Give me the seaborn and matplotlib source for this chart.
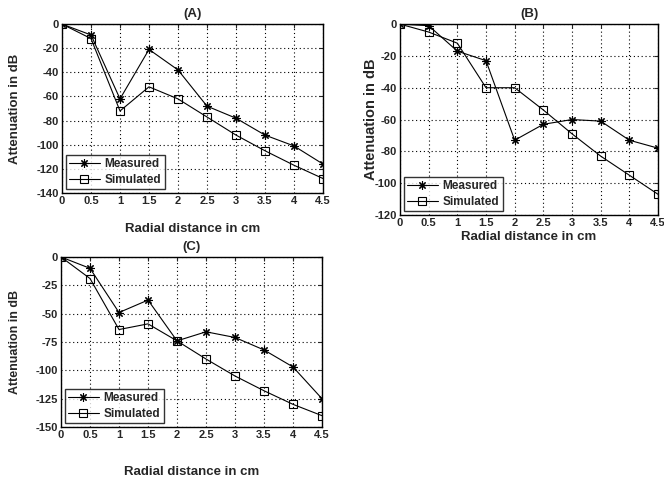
import matplotlib
matplotlib.use("Agg")
import matplotlib.pyplot as plt
import seaborn as sns
import pandas as pd

# radial distance (cm)
distancia = [0, 0.5, 1, 1.5, 2, 2.5, 3, 3.5, 4, 4.5]

# panel A
medido_a = [0, -9, -62, -21, -38, -68, -78, -92, -101, -116]
simulado_a = [0, -12, -72, -52, -62, -77, -92, -105, -117, -128]

# panel B
medido_b = [0, -1, -17, -23, -73, -63, -60, -61, -73, -78]
simulado_b = [0, -5, -12, -40, -40, -54, -69, -83, -95, -107]

# panel C
medido_c = [0, -10, -49, -38, -74, -66, -71, -82, -97, -125]
simulado_c = [0, -19, -64, -59, -74, -90, -105, -118, -130, -140]

titulos = ["(A)", "(B)", "(C)"]
yticks_a = [0, -20, -40, -60, -80, -100, -120, -140]
yticks_b = [0, -20, -40, -60, -80, -100, -120]
yticks_c = [0, -25, -50, -75, -100, -125, -150]
xtick_labels = ["0", "0.5", "1", "1.5", "2", "2.5", "3", "3.5", "4", "4.5"]

sns.set_style("white")
plt.rcParams['font.family'] = ['Liberation Sans Narrow', 'Liberation Sans', 'DejaVu Sans']
plt.rcParams['font.weight'] = 'bold'
plt.rcParams['axes.unicode_minus'] = False
plt.rcParams['xtick.direction'] = 'in'
plt.rcParams['ytick.direction'] = 'in'

fig = plt.figure(figsize=(6.64, 4.82), dpi=100)
ax_a = fig.add_axes([0.0934, 0.5996, 0.393, 0.3504])
ax_b = fig.add_axes([0.6024, 0.554, 0.3886, 0.396])
ax_c = fig.add_axes([0.0919, 0.1141, 0.393, 0.3527])

# (axes, measured, simulated, yticks, ylabel size, ylabel x, xlabel y)
paneles = [
    (ax_a, medido_a, simulado_a, yticks_a, 9.5, -0.157, -0.18),
    (ax_b, medido_b, simulado_b, yticks_b, 10.5, -0.085, -0.085),
    (ax_c, medido_c, simulado_c, yticks_c, 9.0, -0.153, -0.229),
]

for i, (ax, med, sim, yt, ys, ylx, xly) in enumerate(paneles):
    df = pd.DataFrame({"x": distancia, "Measured": med, "Simulated": sim})
    sns.lineplot(data=df, x="x", y="Measured", ax=ax, color="k", lw=0.8,
                 marker=(8, 2, 0), markersize=6, markeredgewidth=0.8,
                 markeredgecolor="k", label="Measured")
    sns.lineplot(data=df, x="x", y="Simulated", ax=ax, color="k", lw=0.8,
                 marker="s", markersize=6, markerfacecolor="none",
                 markeredgecolor="k", markeredgewidth=0.8, label="Simulated")
    ax.set_xlim(0, 4.5)
    ax.set_ylim(yt[-1], 0)
    ax.set_xticks(distancia)
    ax.set_xticklabels(xtick_labels)
    ax.set_yticks(yt)
    ax.tick_params(labelsize=8, length=3, width=0.8, pad=2,
                   top=True, right=True)
    for lab in ax.get_xticklabels() + ax.get_yticklabels():
        lab.set_fontweight('bold')
    ax.grid(True, linestyle=(0, (1, 2.5)), color="k", lw=0.8)
    for s in ax.spines.values():
        s.set_color("k")
        s.set_linewidth(1.0)
    ax.set_title(titulos[i], fontsize=9.5, fontweight='bold',
                 family=['Liberation Sans', 'DejaVu Sans'], pad=5)
    ax.set_ylabel("Attenuation in dB", fontsize=ys, fontweight='bold',
                  family=['Liberation Sans', 'DejaVu Sans'])
    ax.set_xlabel("Radial distance in cm", fontsize=9.5, fontweight='bold',
                  family=['Liberation Sans', 'DejaVu Sans'])
    ax.yaxis.set_label_coords(ylx, 0.5)
    ax.xaxis.set_label_coords(0.5, xly)
    leg = ax.legend(loc="lower left", fontsize=8.5, frameon=True, fancybox=False,
                    edgecolor="k", borderaxespad=0.3, handlelength=2.6,
                    borderpad=0.3, labelspacing=0.3, handletextpad=0.4)
    leg.get_frame().set_linewidth(1.0)
    for t in leg.get_texts():
        t.set_fontweight('bold')

fig.savefig("out.png", dpi=100)
